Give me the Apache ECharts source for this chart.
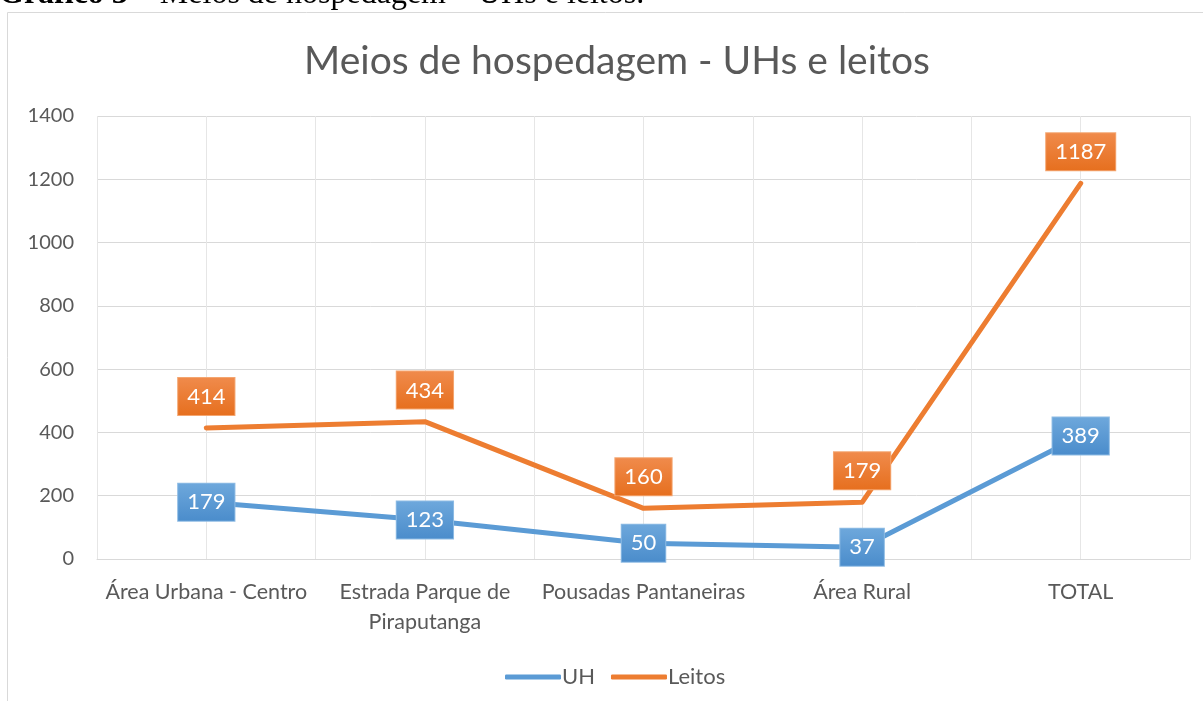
<!DOCTYPE html>
<html>
<head>
	<meta charset="UTF-8" />
	<title>Meios de hospedagem - UHs e leitos</title>
	<script type="text/javascript" src="https://cdn.jsdelivr.net/npm/echarts@6/dist/echarts.min.js"></script>
	<style>
		html, body { margin: 0; padding: 0; background: #fff; }
		#chart { width: 1203px; height: 701px; }
	</style>
</head>
<body>
	<div id="chart"></div>
	<script type="text/javascript">
		// dados
		const categorias = ["Área Urbana - Centro", "Estrada Parque de\nPiraputanga", "Pousadas Pantaneiras", "Área Rural", "TOTAL"];
		const uh = [179, 123, 50, 37, 389];
		const leitos = [414, 434, 160, 179, 1187];
		const eixoY = { min: 0, max: 1400, step: 200 };

		const fonte = "Lato, 'Open Sans', sans-serif";
		const serifa = "'Liberation Serif', serif";
		const cinza = "#595959";

		function caixa(c1, c2, borda) { // rótulo estilo Excel
			return {
				show: true,
				color: "#fff",
				fontFamily: fonte,
				fontSize: 22,
				padding: [8, 9, 7, 9],
				backgroundColor: new echarts.graphic.LinearGradient(0, 0, 0, 1, [
					{ offset: 0, color: c1 },
					{ offset: 1, color: c2 }
				]),
				borderColor: borda,
				borderWidth: 1
			};
		}

		const chart = echarts.init(document.getElementById("chart"));
		chart.setOption({
			animation: false,
			graphic: [
				{
					type: "rect",
					shape: { x: 7.5, y: 12.5, width: 1400, height: 900 },
					style: { fill: "none", stroke: "#D9D9D9", lineWidth: 1 },
					z: -1
				},
				{
					type: "text",
					x: -1,
					y: 11,
					style: {
						text: "{b|Gráfico 3} – Meios de hospedagem – UHs e leitos.",
						fontSize: 32,
						fontFamily: serifa,
						fill: "#000",
						verticalAlign: "bottom",
						rich: { b: { fontWeight: "bold", fontSize: 32, fontFamily: serifa } }
					}
				}
			],
			title: {
				text: "Meios de hospedagem - UHs e leitos",
				left: 612,
				textAlign: "center",
				top: 37,
				textStyle: { fontFamily: fonte, fontSize: 39, fontWeight: "normal", color: cinza }
			},
			legend: {
				left: 500,
				top: 661,
				itemWidth: 56,
				itemHeight: 5,
				itemGap: 16,
				icon: "roundRect",
				textStyle: { fontFamily: fonte, fontSize: 22, color: cinza, padding: [0, 0, 0, -4] },
				data: ["UH", "Leitos"]
			},
			grid: { left: 97, right: 13, top: 116, bottom: 142 },
			xAxis: [
				{
					type: "category",
					data: categorias,
					boundaryGap: true,
					axisLine: { lineStyle: { color: "#D9D9D9" } },
					axisTick: { show: false },
					splitLine: { show: false },
					axisLabel: {
						interval: 0,
						margin: 18,
						color: cinza,
						fontFamily: fonte,
						fontSize: 21.5,
						lineHeight: 30
					}
				},
				{
					// linhas verticais de grade (meio e limite de cada categoria)
					type: "value",
					min: 0,
					max: categorias.length * 2,
					interval: 1,
					position: "bottom",
					axisLine: { show: false },
					axisTick: { show: false },
					axisLabel: { show: false },
					splitLine: { show: true, lineStyle: { color: "#E6E6E6" } }
				}
			],
			yAxis: {
				type: "value",
				min: eixoY.min,
				max: eixoY.max,
				interval: eixoY.step,
				axisLine: { show: false },
				axisTick: { show: false },
				axisLabel: { margin: 23, color: cinza, fontFamily: fonte, fontSize: 20, formatter: v => String(v) },
				splitLine: { lineStyle: { color: "#D9D9D9" } }
			},
			series: [
				{
					name: "UH",
					type: "line",
					data: uh,
					color: "#5B9BD5",
					symbol: "circle",
					symbolSize: 0.1,
					lineStyle: { width: 5, cap: "round", join: "round" },
					label: Object.assign(caixa("#6EA8DC", "#4A8CCB", "#8DBBE4"), { position: "inside" }),
					z: 3
				},
				{
					name: "Leitos",
					type: "line",
					data: leitos,
					color: "#ED7D31",
					symbol: "circle",
					symbolSize: 0.1,
					lineStyle: { width: 5, cap: "round", join: "round" },
					label: Object.assign(caixa("#F08B4C", "#E66F1E", "#F4A671"), { position: "top", distance: 13 }),
					z: 2
				}
			]
		});
	</script>
</body>
</html>
